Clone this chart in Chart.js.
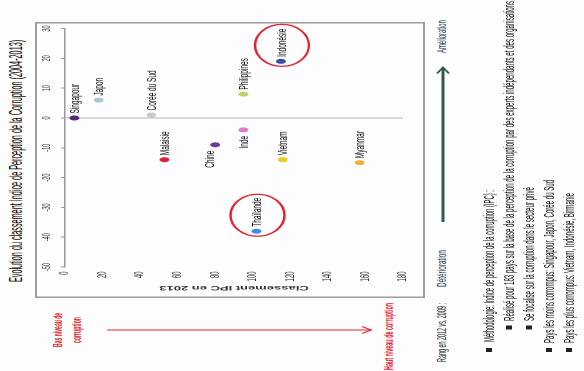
<!DOCTYPE html>
<html lang="fr">
<head>
<meta charset="utf-8">
<script src="https://cdn.jsdelivr.net/npm/chart.js@4.4.0/dist/chart.umd.min.js"></script>
<style>
  html, body { margin: 0; padding: 0; background: #fff; overflow: hidden; width: 584px; height: 371px; }
  /* la diapo est dessinée à plat (742x584) puis tassée et tournée comme le scan */
  #page { position: absolute; left: 0; top: 0; width: 742px; height: 584px;
          transform-origin: 0 0; transform: translate(0, 371px) rotate(-90deg) scaleX(0.5);
          font-family: "Liberation Sans", Arial, sans-serif; background: #fdfdff; }
  .t { position: absolute; white-space: nowrap; line-height: 1; transform-origin: 0 50%; }
  .red { color: #e3262d; font-weight: bold; font-size: 13px; }
  .note { color: #1f2f4a; font-size: 12px; }
  .bl { font-size: 14px; color: #0c0c0c; }
  .sq { position: absolute; width: 8px; height: 6px; background: #222; }
  #frame { position: absolute; left: 146px; top: 35px; width: 552px; height: 390px; box-sizing: border-box;
           border-style: solid; border-color: #9c9c9c; border-width: 2px 3px; }
  #chartBox { position: absolute; left: 146px; top: 35px; width: 552px; height: 390px; }
  svg { position: absolute; left: 0; top: 0; }
</style>
</head>
<body>
<div id="page">
  <div class="t" data-w="484" style="left:178px; top:7px; font-size:18px; color:#0a0a0a;">Evolution du classement Indice de Perception de la Corruption (2004-2013)</div>

  <div id="frame"></div>
  <div id="chartBox"><canvas id="ipcChart" width="552" height="390"></canvas></div>

  <div class="t red" data-w="68" style="left:48px; top:51px;">Bas niveau de</div>
  <div class="t red" data-w="52" style="left:56px; top:70px;">corruption</div>
  <div class="t red" data-w="134" style="left:2px; top:382px;">Haut niveau de corruption</div>

  <div class="t note" data-w="118" style="left:18px; top:436px; color:#222;">Rang en 2012 vs. 2009 :</div>
  <div class="t note" data-w="74" style="left:168px; top:436px;">Détérioration</div>
  <div class="t note" data-w="66" style="left:636px; top:436px;">Amélioration</div>

  <svg width="742" height="584">
    <line x1="82" y1="107" x2="82" y2="370" stroke="#e3262d" stroke-width="2"/>
    <polyline points="75,362 82,371 89,362" fill="none" stroke="#e3262d" stroke-width="2"/>
    <line x1="298" y1="443" x2="606" y2="443" stroke="#2f5a4d" stroke-width="3"/>
    <polyline points="595,437 607,443 595,449" fill="none" stroke="#2f5a4d" stroke-width="2.5"/>
  </svg>

  <div class="sq" style="left:38px; top:486px;"></div>
  <div class="t bl" data-w="304" style="left:58px; top:482px;">Méthodologie: Indice de perception de la corruption (IPC) :</div>
  <div class="sq" style="left:83px; top:506px;"></div>
  <div class="t bl" data-w="640" style="left:100px; top:502px;">Réalisé pour 183 pays sur la base de la perception de la corruption par des experts indépendants et des organisations</div>
  <div class="sq" style="left:83px; top:526px;"></div>
  <div class="t bl" data-w="268" style="left:100px; top:522px;">Se focalise sur la corruption dans le secteur privé</div>
  <div class="sq" style="left:38px; top:546px;"></div>
  <div class="t bl" data-w="326" style="left:56px; top:542px;">Pays les moins corrompus: Singapour, Japon, Corée du Sud</div>
  <div class="sq" style="left:38px; top:566px;"></div>
  <div class="t bl" data-w="300" style="left:56px; top:562px;">Pays les plus corrompus: Vietnam, Indonésie, Birmanie</div>
</div>

<script>
// données
const countries = ["Singapour", "Japon", "Corée du Sud", "Philippines", "Indonésie", "Malaisie", "Chine", "Inde", "Vietnam", "Myanmar", "Thaïlande"];
const rank2013 = [5, 18, 46, 95, 115, 53, 80, 95, 116, 157, 102];
const evolution = [0, 6, 1, 8, 19, -14, -9, -4, -14, -15, -38];
const evoTicks = [-50, -40, -30, -20, -10, 0, 10, 20, 30];
const rankTicks = [0, 20, 40, 60, 80, 100, 120, 140, 160, 180];

const pointColors = ["#4e2a78", "#a9c8d6", "#c9cacf", "#bcd46a", "#3b4a9c", "#d9253c", "#6d3d8f", "#e07cc8", "#e8cf1f", "#f0b23a", "#3d8fe0"];
const leftLabels = { "Chine": -5, "Inde": 1 };   // étiquette à gauche du point, décalage vertical
const circled = ["Indonésie", "Thaïlande"];

// resserre les textes html à la largeur du scan
document.querySelectorAll('[data-w]').forEach(el => {
    const w = Number(el.dataset.w);
    el.style.transform = 'scaleX(' + (w / el.offsetWidth) + ')';
});

const labelPlugin = {
    id: 'pointLabels',
    afterDatasetsDraw(chart) {
        const ctx = chart.ctx;
        const meta = chart.getDatasetMeta(0);
        ctx.save();
        ctx.font = '13px "Liberation Sans", Arial, sans-serif';
        ctx.fillStyle = '#111';
        ctx.textBaseline = 'middle';
        meta.data.forEach((pt, i) => {
            const name = countries[i];
            if (name in leftLabels) {
                ctx.textAlign = 'right';
                ctx.fillText(name, pt.x - 12, pt.y + leftLabels[name]);
            } else {
                ctx.textAlign = 'left';
                ctx.fillText(name, pt.x + 9, pt.y + 1);
            }
            if (circled.includes(name)) {
                ctx.beginPath();
                ctx.ellipse(pt.x + 32, pt.y + 1, 42, 27, 0, 0, 2 * Math.PI);
                ctx.strokeStyle = '#e3262d';
                ctx.lineWidth = 2.5;
                ctx.stroke();
            }
        });
        ctx.restore();
    }
};

Chart.defaults.font.family = '"Liberation Sans", Arial, sans-serif';

const ctx = document.getElementById('ipcChart').getContext('2d');
const chart = new Chart(ctx, {
    type: 'scatter',
    data: {
        datasets: [{
            data: countries.map((c, i) => ({ x: evolution[i], y: rank2013[i] })),
            backgroundColor: pointColors,
            borderColor: pointColors,
            borderWidth: 0,
            pointRadius: 5,
            pointHoverRadius: 5
        }]
    },
    options: {
        responsive: false,
        animation: false,
        layout: { padding: { left: 0, top: 0, right: 12, bottom: 22 } },
        plugins: { legend: { display: false }, tooltip: { enabled: false } },
        scales: {
            x: {
                type: 'linear',
                position: 'top',
                min: evoTicks[0],
                max: evoTicks[evoTicks.length - 1],
                afterBuildTicks: axis => { axis.ticks = evoTicks.map(v => ({ value: v })); },
                afterFit: axis => { axis.height = 30; },
                ticks: { font: { size: 11 }, color: '#333', padding: 7 },
                grid: {
                    color: c => (c.tick && c.tick.value === 0) ? '#b8b8b8' : 'rgba(0,0,0,0)',
                    lineWidth: 2,
                    drawTicks: true,
                    tickLength: 4,
                    tickColor: '#999'
                },
                border: { display: true, color: '#999', width: 1.5 }
            },
            y: {
                type: 'linear',
                reverse: true,
                min: rankTicks[0],
                max: rankTicks[rankTicks.length - 1],
                afterBuildTicks: axis => { axis.ticks = rankTicks.map(v => ({ value: v })); },
                afterFit: axis => { axis.width = 62; },
                ticks: { font: { size: 12 }, color: '#333', padding: 9 },
                grid: { display: false, drawTicks: false },
                border: { display: false },
                title: {
                    display: true,
                    text: 'Classement IPC en 2013',
                    font: { size: 13, weight: 'bold' },
                    color: '#333',
                    padding: { top: 13, bottom: 4 }
                }
            }
        }
    },
    plugins: [labelPlugin]
});
</script>
</body>
</html>
